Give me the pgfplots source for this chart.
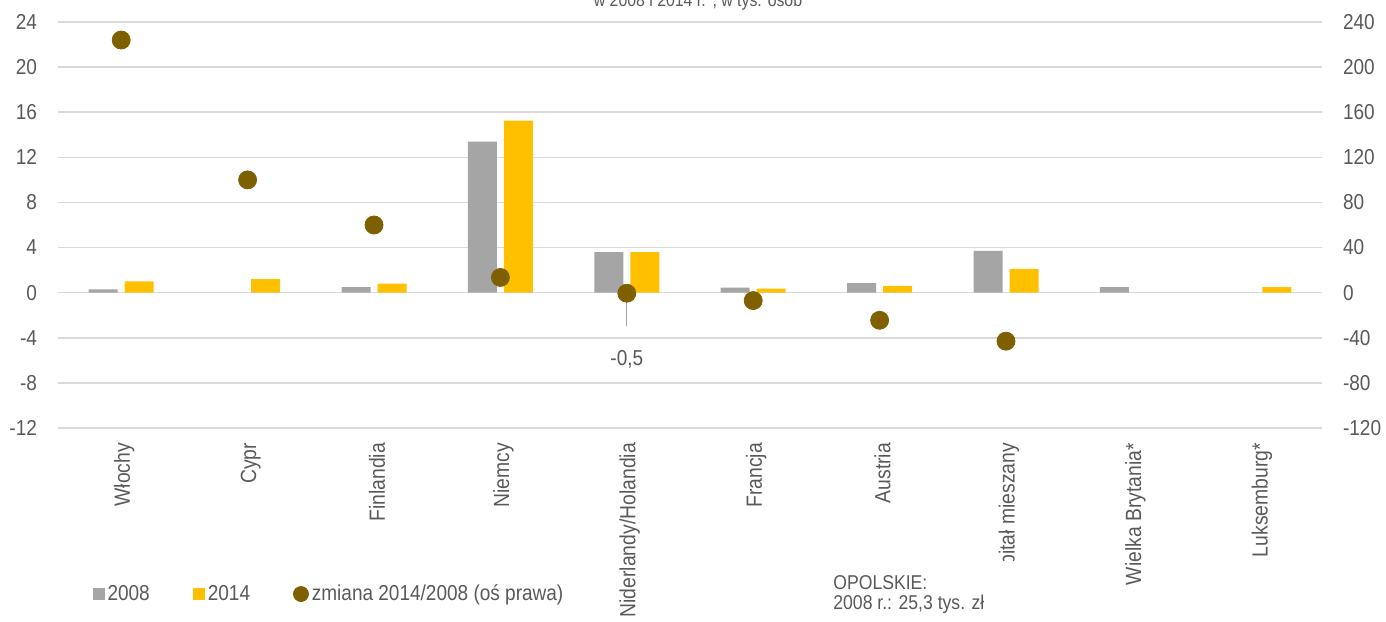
\documentclass[border=0pt]{standalone}
\usepackage{pgfplots}
\pgfplotsset{compat=1.18}
\usepackage{fontspec}
\setmainfont{Liberation Sans}[FakeStretch=0.88]

\definecolor{bargray}{HTML}{A5A5A5}
\definecolor{baryellow}{HTML}{FFC000}
\definecolor{dotbrown}{HTML}{7F6000}
\definecolor{gridgray}{HTML}{D9D9D9}
\definecolor{txt}{HTML}{595959}

\pgfplotsset{
  common/.style={
    at={(29pt,96.5pt)}, anchor=south west,
    scale only axis, width=632pt, height=203pt,
    xmin=-0.5, xmax=9.5,
    axis line style={draw=none},
    major tick length=0pt,
    tick label style={text=txt, font=\fontsize{10.8}{13}\selectfont},
    /pgf/number format/assume math mode=true,
  },
}

\begin{document}
\begin{tikzpicture}
\useasboundingbox (0pt,0pt) rectangle (693pt,310.5pt);

% title, cut off at the top as in the source
\node[anchor=base, text=txt, font=\fontsize{9}{11}\selectfont, inner sep=0pt]
  at (349pt,307.2pt) {w 2008 i 2014 r.\textsuperscript{a}, w tys. osób};

\begin{axis}[common,
  ymin=-12, ymax=24,
  ytick={-12,-8,...,24},
  ymajorgrids,
  grid style={draw=gridgray, line width=0.75pt},
  yticklabel style={xshift=-7pt},
  xtick={0,...,9},
  xticklabels={Włochy,Cypr,Finlandia,Niemcy,Niderlandy/Holandia,Francja,Austria,Kapitał mieszany,Wielka Brytania*,Luksemburg*},
  x tick label style={rotate=90, anchor=east, xshift=-4pt, yshift=-1.5pt, font=\fontsize{11}{13}\selectfont},
  legend columns=3,
  legend style={at={(0.027,-0.4089)}, anchor=west, draw=none, fill=none,
    inner sep=0pt, font=\fontsize{10.8}{13}\selectfont,
    nodes={inner xsep=1.5pt, inner ysep=0pt, text=txt},
    /tikz/every even column/.append style={column sep=20pt}},
]
\addplot[ybar, bar width=14.5pt, bar shift=-9pt, fill=bargray, draw=none,
  legend image code/.code={\fill[bargray] (0pt,-3pt) rectangle (6pt,3pt);}]
  coordinates {(0,0.3) (2,0.5) (3,13.4) (4,3.6) (5,0.45) (6,0.85) (7,3.7) (8,0.5)};
\addlegendentry{2008}
\addplot[ybar, bar width=14.5pt, bar shift=9pt, fill=baryellow, draw=none,
  legend image code/.code={\fill[baryellow] (0pt,-3pt) rectangle (6pt,3pt);}]
  coordinates {(0,1.0) (1,1.2) (2,0.8) (3,15.25) (4,3.6) (5,0.35) (6,0.6) (7,2.1) (9,0.5)};
\addlegendentry{2014}
\addlegendimage{legend image code/.code={\fill[dotbrown] (3.75pt,0pt) circle (3.75pt);}}
\addlegendentry{zmiana 2014/2008 (oś prawa)}
\end{axis}

\begin{axis}[common,
  ymin=-120, ymax=240,
  ytick={-120,-80,...,240},
  axis y line*=right,
  hide x axis,
  yticklabel style={xshift=7pt},
  clip=false,
]
\addplot[only marks, mark=*, mark size=4.5pt, color=dotbrown]
  coordinates {(0,224) (1,100) (2,60) (3,13.5) (4,-0.5) (5,-7) (6,-24.5) (7,-43)};
\draw[bargray, line width=0.6pt] (axis cs:4,-1.5) -- (axis cs:4,-30);
\node[text=txt, font=\fontsize{10.8}{13}\selectfont] at (axis cs:4,-59) {-0,5};
\end{axis}

% text box lying over the bottom of one category label
\fill[white] (410pt,0pt) rectangle (545pt,30pt);
\node[anchor=base west, inner sep=0pt, text=txt, font=\fontsize{10}{12}\selectfont]
  at (416.5pt,16pt) {OPOLSKIE:};
\node[anchor=base west, inner sep=0pt, text=txt, font=\fontsize{10}{12}\selectfont]
  at (416.5pt,6pt) {2008 r.: 25,3 tys. zł};
\end{tikzpicture}
\end{document}
